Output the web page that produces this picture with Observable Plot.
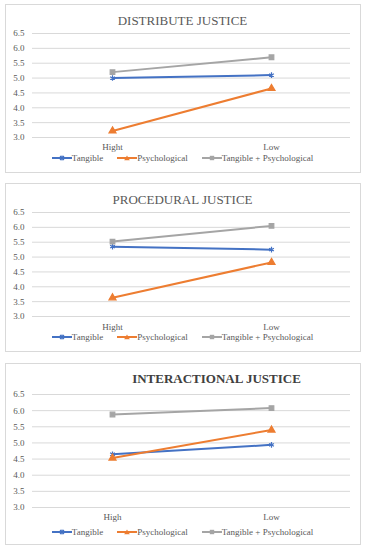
<!DOCTYPE html>
<html>
<head>
<meta charset="utf-8">
<script src="https://cdn.jsdelivr.net/npm/d3@7"></script>
<script src="https://cdn.jsdelivr.net/npm/@observablehq/plot@0.6"></script>
<style>
  body { margin: 0; background: #fff; width: 365px; height: 550px; position: relative; overflow: hidden;
         font-family: "Liberation Serif", "Times New Roman", serif; }
  .panel { position: absolute; left: 5px; width: 356px; border: 1px solid #d9d9d9; box-sizing: border-box; background: #fff; }
  .title { position: absolute; left: 0; width: 365px; text-align: center; color: #595959; font-size: 13px; line-height: 1; transform: translateY(-50%); white-space: nowrap; }
  .legend { position: absolute; left: 0; width: 365px; display: flex; justify-content: center; gap: 14px; color: #595959; font-size: 9px; line-height: 1; transform: translateY(-50%); }
  .legend span.item { display: flex; align-items: center; gap: 0px; white-space: nowrap; }
  .plotwrap { position: absolute; left: 0; }
</style>
</head>
<body>
<script>
// ---- data ----
const levels1 = ["Hight", "Low"];
const levels3 = ["High", "Low"];
const seriesNames = ["Tangible", "Psychological", "Tangible + Psychological"];
const titles = ["DISTRIBUTE JUSTICE", "PROCEDURAL JUSTICE", "INTERACTIONAL JUSTICE"];
const distributeTangible = [5.0, 5.1];
const distributePsychological = [3.22, 4.65];
const distributeBoth = [5.2, 5.7];
const proceduralTangible = [5.35, 5.25];
const proceduralPsychological = [3.63, 4.82];
const proceduralBoth = [5.52, 6.05];
const interactionalTangible = [4.65, 4.94];
const interactionalPsychological = [4.53, 5.4];
const interactionalBoth = [5.88, 6.08];
const yTicks = [3.0, 3.5, 4.0, 4.5, 5.0, 5.5, 6.0, 6.5];

const colors = ["#4472C4", "#ED7D31", "#A5A5A5"];
const symbols = ["asterisk", "triangle", "square"];

const panels = [
  {levels: levels1, values: [distributeTangible, distributePsychological, distributeBoth], title: titles[0],
   boxTop: 4, boxBottom: 173, titleY: 20, gridTop: 33, gridBottom: 137, labelY: 148, legendY: 158, bold: false, titleX: 0},
  {levels: levels1, values: [proceduralTangible, proceduralPsychological, proceduralBoth], title: titles[1],
   boxTop: 183, boxBottom: 352, titleY: 199, gridTop: 212, gridBottom: 316, labelY: 328, legendY: 337, bold: false, titleX: 0},
  {levels: levels3, values: [interactionalTangible, interactionalPsychological, interactionalBoth], title: titles[2],
   boxTop: 363, boxBottom: 545, titleY: 378, gridTop: 394, gridBottom: 507, labelY: 518, legendY: 532, bold: true, titleX: 34}
];

function legendSwatch(i) {
  const c = colors[i];
  let m = "";
  if (i === 0) m = `<path d="M8,3 L12,7 M12,3 L8,7 M10,2.5 L10,7.5" stroke="${c}" stroke-width="1.1"/>`;
  if (i === 1) m = `<path d="M10,2.5 L12.8,7.3 L7.2,7.3 Z" fill="${c}"/>`;
  if (i === 2) m = `<rect x="7.8" y="2.8" width="4.4" height="4.4" fill="${c}"/>`;
  return `<svg width="20" height="10"><line x1="0" x2="20" y1="5" y2="5" stroke="${c}" stroke-width="2"/>${m}</svg>`;
}

panels.forEach(p => {
  const box = document.createElement("div");
  box.className = "panel";
  box.style.top = p.boxTop + "px";
  box.style.height = (p.boxBottom - p.boxTop) + "px";
  document.body.appendChild(box);

  const t = document.createElement("div");
  t.className = "title";
  t.textContent = p.title;
  t.style.top = p.titleY + "px";
  t.style.left = p.titleX + "px";
  if (p.bold) { t.style.fontWeight = "bold"; t.style.color = "#404040"; }
  document.body.appendChild(t);

  const data = [];
  p.values.forEach((vals, si) => vals.forEach((v, li) => data.push({level: p.levels[li], value: v, series: seriesNames[si]})));

  const svgTop = p.gridTop - 10;
  const height = (p.labelY + 8) - svgTop;
  const chart = Plot.plot({
    width: 365,
    height,
    marginTop: 10,
    marginBottom: p.labelY + 8 - p.gridBottom,
    marginLeft: 32,
    marginRight: 15,
    style: {fontFamily: '"Liberation Serif", "Times New Roman", serif', fontSize: "9px", color: "#595959", background: "transparent"},
    x: {type: "point", domain: p.levels, padding: 0.5},
    y: {domain: [3.0, 6.5]},
    color: {domain: seriesNames, range: colors},
    symbol: {domain: seriesNames, range: symbols},
    marks: [
      Plot.gridY(yTicks, {stroke: "#d9d9d9", strokeOpacity: 1, strokeWidth: 1}),
      Plot.axisY(yTicks, {tickSize: 0, tickPadding: 8, tickFormat: d3.format(".1f"), label: null, fill: "#595959"}),
      Plot.axisX({tickSize: 0, tickPadding: p.labelY - p.gridBottom - 5, label: null, fill: "#595959"}),
      Plot.line(data, {x: "level", y: "value", z: "series", stroke: "series", strokeWidth: 2}),
      Plot.dot(data, {x: "level", y: "value", symbol: "series", stroke: "series", fill: "series", r: 2.6, strokeWidth: 1.2})
    ]
  });
  const wrap = document.createElement("div");
  wrap.className = "plotwrap";
  wrap.style.top = svgTop + "px";
  wrap.appendChild(chart);
  document.body.appendChild(wrap);

  const lg = document.createElement("div");
  lg.className = "legend";
  lg.style.top = p.legendY + "px";
  lg.innerHTML = seriesNames.map((n, i) => `<span class="item">${legendSwatch(i)}<span>${n}</span></span>`).join("");
  document.body.appendChild(lg);
});
</script>
</body>
</html>
